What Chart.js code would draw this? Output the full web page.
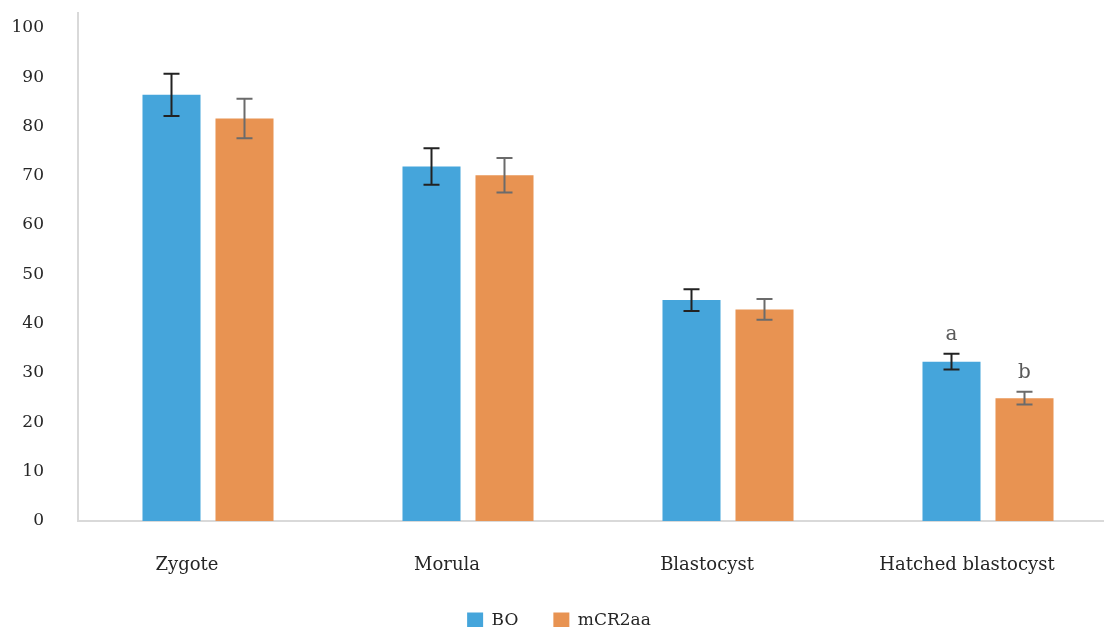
<!DOCTYPE html>
<html>
<head>
<meta charset="utf-8">
<script src="https://cdn.jsdelivr.net/npm/chart.js@4/dist/chart.umd.min.js"></script>
<style>
  html, body { margin: 0; padding: 0; background: #fff; overflow: hidden; }
  #wrap { width: 1104px; height: 627px; overflow: hidden; }
  canvas { display: block; }
</style>
</head>
<body>
<div id="wrap"><canvas id="c" width="1140" height="639"></canvas></div>
<script>
// Embryo development rate (%) by stage, BO vs mCR2aa medium
const categories = ['Zygote', 'Morula', 'Blastocyst', 'Hatched blastocyst'];
const boValues = [86.4, 71.9, 44.8, 32.3];
const boErrors = [4.3, 3.7, 2.2, 1.6];
const mcrValues = [81.6, 70.1, 42.9, 24.9];
const mcrErrors = [4.0, 3.5, 2.1, 1.3];
const boLetters = ['', '', '', 'a'];
const mcrLetters = ['', '', '', 'b'];
const yTicks = [0, 10, 20, 30, 40, 50, 60, 70, 80, 90, 100];

const FONT = '"DejaVu Serif", "Liberation Serif", serif';
const TEXT = '#262626';

// Error bars with caps, plus significance letters above them
const errorBarPlugin = {
  id: 'errorBars',
  afterDatasetsDraw(chart) {
    const ctx = chart.ctx;
    const y = chart.scales.y;
    chart.data.datasets.forEach((ds, di) => {
      const meta = chart.getDatasetMeta(di);
      meta.data.forEach((bar, i) => {
        const v = ds.data[i];
        const e = ds.errors[i];
        const yTop = y.getPixelForValue(v + e);
        const yBot = y.getPixelForValue(v - e);
        const x = bar.x;
        ctx.save();
        ctx.strokeStyle = ds.errorColor;
        ctx.lineWidth = 2;
        ctx.beginPath();
        ctx.moveTo(x, yTop); ctx.lineTo(x, yBot);
        ctx.moveTo(x - 8, yTop); ctx.lineTo(x + 8, yTop);
        ctx.moveTo(x - 8, yBot); ctx.lineTo(x + 8, yBot);
        ctx.stroke();
        const letter = ds.letters[i];
        if (letter) {
          ctx.fillStyle = '#595959';
          ctx.font = '20px ' + FONT;
          ctx.textAlign = 'center';
          ctx.textBaseline = 'alphabetic';
          ctx.fillText(letter, x, yTop - 14);
        }
        ctx.restore();
      });
    });
  }
};

new Chart(document.getElementById('c'), {
  type: 'bar',
  data: {
    labels: categories,
    datasets: [
      {
        label: 'BO',
        data: boValues,
        errors: boErrors,
        letters: boLetters,
        errorColor: '#222222',
        backgroundColor: '#45A5DB',
        categoryPercentage: 0.5615,
        barPercentage: 0.795
      },
      {
        label: 'mCR2aa',
        data: mcrValues,
        errors: mcrErrors,
        letters: mcrLetters,
        errorColor: '#6b6b6b',
        backgroundColor: '#E89352',
        categoryPercentage: 0.5615,
        barPercentage: 0.795
      }
    ]
  },
  options: {
    responsive: false,
    animation: false,
    devicePixelRatio: 1,
    layout: { padding: { top: 13, right: 22, left: 0, bottom: 0 } },
    plugins: {
      tooltip: { enabled: false },
      legend: {
        position: 'bottom',
        labels: {
          boxWidth: 16,
          boxHeight: 16,
          padding: 35,
          color: TEXT,
          font: { family: FONT, size: 17 }
        }
      }
    },
    scales: {
      x: {
        grid: { display: false, drawTicks: false },
        border: { display: true, color: '#D9D9D9', width: 2 },
        ticks: {
          color: TEXT,
          font: { family: FONT, size: 18 },
          padding: 34,
          labelOffset: -21,
          maxRotation: 0
        },
        afterFit(scale) { scale.height = 56; }
      },
      y: {
        min: 0,
        max: 103,
        grid: { display: false, drawTicks: false },
        border: { display: true, color: '#D9D9D9', width: 2 },
        ticks: {
          color: TEXT,
          font: { family: FONT, size: 17 },
          padding: 34
        },
        afterBuildTicks(scale) { scale.ticks = yTicks.map(v => ({ value: v })); },
        afterFit(scale) {
          scale.width = 78;
          scale.paddingTop = 0;
          scale.paddingBottom = 0;
        }
      }
    }
  },
  plugins: [errorBarPlugin]
});
</script>
</body>
</html>
